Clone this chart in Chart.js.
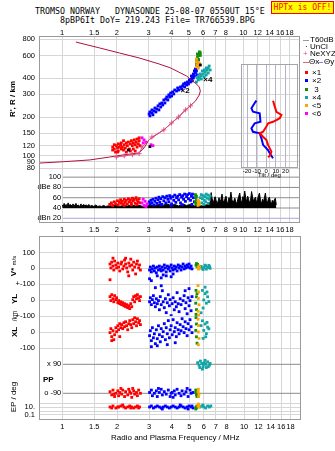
<!DOCTYPE html>
<html>
<head>
<meta charset="utf-8">
<title>Tromso Dynasonde ionogram</title>
<script src="https://cdn.jsdelivr.net/npm/chart.js@4.4.1/dist/chart.umd.min.js"></script>
<style>
  html, body { margin: 0; padding: 0; background: #fff; }
  body { position: relative; width: 335px; height: 451px; overflow: hidden;
         font-family: "Liberation Sans", Arial, sans-serif; color: #000; }
  canvas { position: absolute; }
  .txt { position: absolute; white-space: pre; font-size: 8px; line-height: 9px; }
  .mono { font-family: "DejaVu Sans Mono", monospace; font-size: 8.3px; }
  .vt { position: absolute; white-space: nowrap; transform: translate(-50%, -50%) rotate(-90deg);
        font-size: 8px; font-weight: bold; line-height: 9px; }
  .sq { position: absolute; width: 3px; height: 3px; }
  .ln { position: absolute; height: 1px; }
  #hptx { position: absolute; left: 271px; top: 1px; width: 61px; height: 11px; background: #ff0;
          border: 1px solid #f00; color: #f00; font: 8px "DejaVu Sans Mono", monospace;
          line-height: 11px; text-align: center; }
</style>
</head>
<body>
<div class="txt mono" style="left:35px;top:7px">TROMSO NORWAY   DYNASONDE 25-08-07 0550UT 15°E</div>
<div class="txt mono" style="left:60px;top:16px">8pBP6It DoY= 219.243 File= TR766539.BPG</div>
<div id="hptx">HPTx is OFF!</div>

<canvas id="ionogram" width="304" height="212" style="left:0;top:23px"></canvas>
<canvas id="tilt" width="70" height="123" style="left:236px;top:60px"></canvas>
<canvas id="polar" width="304" height="200" style="left:0;top:232px"></canvas>

<!-- legend -->
<div class="ln" style="left:303px;top:40px;width:6px;background:#999"></div>
<div class="txt" style="left:310px;top:35px">T60dB</div>
<div class="txt" style="left:305px;top:42px">·</div>
<div class="txt" style="left:310px;top:42px">UnCl</div>
<div class="txt" style="left:303px;top:49px;color:#e0508a">+</div>
<div class="txt" style="left:310px;top:49px">NeXYZ</div>
<div class="ln" style="left:303px;top:62px;width:6px;background:#e06080"></div>
<div class="txt" style="left:309px;top:57px">Θx</div>
<div class="ln" style="left:318px;top:62px;width:5px;background:#8080e0"></div>
<div class="txt" style="left:324px;top:57px">Θy</div>
<div class="sq" style="left:305px;top:71px;background:#f00"></div>
<div class="txt" style="left:312px;top:68px">×1</div>
<div class="sq" style="left:305px;top:79px;background:#00f"></div>
<div class="txt" style="left:312px;top:76px">×2</div>
<div class="sq" style="left:305px;top:88px;background:#0f8f0f"></div>
<div class="txt" style="left:312px;top:85px"> 3</div>
<div class="sq" style="left:305px;top:96px;background:#12a5a5"></div>
<div class="txt" style="left:312px;top:93px">×4</div>
<div class="sq" style="left:305px;top:104px;background:#ffa500"></div>
<div class="txt" style="left:312px;top:101px">&lt;5</div>
<div class="sq" style="left:305px;top:112px;background:#f0f"></div>
<div class="txt" style="left:312px;top:109px">&lt;6</div>

<!-- axis titles -->
<div class="vt" style="left:12px;top:99px">R', R / km</div>
<div class="vt" style="left:14px;top:266px">V* <span style="font-size:6px;font-weight:normal">m/s</span></div>
<div class="vt" style="left:14px;top:299px">YL</div>
<div class="vt" style="left:14px;top:316px;font-size:6.5px;font-weight:normal">/km</div>
<div class="vt" style="left:14px;top:332px">XL</div>
<div class="txt" style="left:43px;top:375px;font-weight:bold">PP</div>
<div class="vt" style="left:13px;top:397px;font-weight:normal">EP / deg</div>
<div class="txt" style="left:111px;top:433px">Radio and Plasma Frequency / MHz</div>

<script>
// ---- axes ----
const freqMin = 0.754;
const freqMax = 20.3;
const freqTicks = [1, 1.5, 2, 3, 4, 5, 6, 7, 8, 10, 12, 14, 16, 18];
const freqTicksMid = [1, 1.5, 2, 3, 4, 5, 6, 7, 8, 9, 10, 12, 14, 16, 18];
const heightTicks = [80, 90, 100, 120, 150, 200, 300, 400, 600, 800];
const dbeLevels = [100, 80, 60, 40];
const dbeLevelText = ['100', 'dBe 80', '60', '40'];
const dbnLevel = 20;
const ppLevels = [90, -90];
const ppLevelText = ['x 90', 'o -90'];
const tiltTicks = [-20, -10, 0, 10, 20];

// ---- virtual height R' (MHz, km) ----
const o1Height = [[1.90,117],[1.90,111],[1.94,122],[1.94,113],[1.97,107],[1.99,120],[2.02,115],[2.04,124],
  [2.04,109],[2.07,117],[2.10,122],[2.12,113],[2.12,126],[2.15,117],[2.18,131],[2.18,111],[2.20,122],
  [2.23,115],[2.26,126],[2.26,107],[2.29,120],[2.32,128],[2.35,113],[2.38,124],[2.41,131],[2.44,120],
  [2.47,126],[2.47,113],[2.50,133],[2.53,122],[2.56,128],[2.59,135],[2.59,117],[2.63,124],[2.66,131],
  [2.66,138],[2.69,120],[2.53,109],[2.38,109],[2.02,107]];
const x2Height = [[3.02,211],[3.05,204],[3.05,219],[3.13,215],[3.13,227],[3.17,208],[3.21,223],[3.25,235],
  [3.29,219],[3.33,231],[3.38,244],[3.42,227],[3.46,253],[3.50,239],[3.55,257],[3.59,248],[3.64,271],
  [3.69,257],[3.73,276],[3.78,286],[3.83,271],[3.88,297],[3.92,286],[3.97,307],[4.02,291],[4.07,313],
  [4.13,302],[4.18,324],[4.28,318],[4.34,336],[4.39,324],[4.50,342],[4.56,330],[4.62,348],[4.68,361],
  [4.74,342],[4.79,367],[4.86,354],[4.92,374],[4.98,361],[5.04,388],[5.11,374],[5.17,394],[5.17,416],
  [5.24,381],[5.30,431],[5.30,402],[5.37,455],[5.37,416],[5.44,471],[5.44,439],[5.51,497],[5.51,455],
  [5.57,525],[5.57,480],[5.65,553],[5.57,424],[5.24,409]];
const g3Height = [[5.51,525],[5.51,553],[5.58,584],[5.58,616],[5.65,600],[5.72,616],[5.72,640],[5.79,630],
  [5.65,560],[5.79,600]];
const c4Height = [[5.51,374],[5.65,388],[5.72,402],[5.86,416],[6.01,431],[6.16,447],[6.32,463],[6.40,480],
  [6.48,497],[5.94,455],[6.09,463],[6.24,480],[5.79,431],[5.65,416],[6.09,409],[5.86,394],[6.40,439],
  [6.56,463],[5.57,402],[6.24,424]];
const or5Height = [[5.51,563],[5.51,534],[5.58,506],[5.58,534],[5.65,480],[5.65,506],[5.72,520],[5.51,490]];
const m6Height = [[2.76,138],[2.83,133],[2.90,128],[2.80,126],[3.09,122],[3.17,120]];
const unclMarks = [[2.32,111],[3.05,118],[5.79,506]];
const modeTags = [[4.50,321,'×2'],[6.01,388,'×4']];

// real height profile and NeXYZ points
const profile = [[0.754,88],[1.0,90],[1.42,93],[1.83,98],[2.20,102],[2.66,105.5],[2.83,115],[3.01,133],
  [3.29,145],[3.64,159],[4.02,180],[4.39,200],[4.73,223],[5.10,244],[5.44,266],[5.71,296],[5.79,318],
  [5.71,342],[5.44,367],[5.17,387],[4.86,416],[4.39,447],[3.97,480],[3.42,516],[2.66,574],[2.07,627],
  [1.61,686],[1.19,762]];
const neXYZ = [[1.99,98],[2.20,100],[2.44,102],[2.66,104],[2.76,117],[3.13,140],[3.64,159],[4.02,180],
  [4.39,200],[4.79,227],[5.11,244]];

// ---- echo amplitude (dBe) ----
const noiseAmp = [[1.000,46],[1.013,43],[1.025,49],[1.038,44],[1.051,47],[1.065,43],[1.078,50],[1.092,45],
  [1.105,47],[1.133,44],[1.148,48],[1.162,43],[1.191,49],[1.206,44],[1.222,46],[1.253,43],[1.269,48],
  [1.285,44],[1.318,47],[1.334,43],[1.351,46],[1.386,44],[1.404,47],[1.420,43],[1.457,45],[1.494,43],
  [1.532,46],[1.571,43],[1.610,44],[1.651,43],[1.693,45],[1.736,43],[1.780,44],[1.873,44],[1.969,45],
  [2.070,43],[2.176,45],[2.288,44],[2.406,46],[2.530,44],[2.660,45],[2.797,43],[2.941,44],[3.092,46],
  [3.251,44],[3.418,47],[3.594,45],[3.779,48],[3.974,45],[4.178,47],[4.393,44],[4.619,48],[4.856,45],
  [5.106,47],[5.369,44],[5.645,45],[5.935,44],[6.241,46],[6.399,48],[6.562,52],[6.645,70],[6.729,58],
  [6.814,49],[6.900,56],[6.987,62],[7.075,55],[7.164,48],[7.255,53],[7.347,60],[7.439,51],[7.533,57],
  [7.628,67],[7.725,54],[7.822,49],[7.921,58],[8.021,63],[8.122,52],[8.224,48],[8.328,60],[8.433,56],
  [8.540,71],[8.648,57],[8.757,50],[8.867,54],[8.979,59],[9.092,52],[9.207,48],[9.323,57],[9.441,63],
  [9.559,69],[9.680,55],[9.802,50],[9.926,62],[10.05,58],[10.18,73],[10.31,60],[10.44,52],[10.57,63],
  [10.70,57],[10.84,49],[10.97,55],[11.11,72],[11.25,61],[11.39,53],[11.53,58],[11.68,61],[11.83,50],
  [11.98,56],[12.13,64],[12.28,69],[12.44,55],[12.60,48],[12.76,57],[12.92,52],[13.08,60],[13.24,69],
  [13.41,54],[13.58,49],[13.75,58],[13.93,61],[14.10,53],[14.28,47],[14.46,55],[14.64,50],[14.83,56],
  [15.02,59],[15.21,46]];
const o1Amp = [[1.83,47],[1.87,50],[1.90,45],[1.94,52],[1.97,48],[2.02,54],[2.04,46],[2.07,51],[2.10,56],
  [2.12,49],[2.15,53],[2.18,47],[2.20,57],[2.23,51],[2.26,55],[2.29,48],[2.32,58],[2.35,52],[2.38,56],
  [2.41,50],[2.44,59],[2.47,54],[2.50,57],[2.53,49],[2.56,60],[2.59,55],[2.63,52],[2.66,58],[2.69,50],
  [2.20,45],[2.41,46],[2.59,47]];
const x2Amp = [[3.02,52],[3.05,48],[3.09,55],[3.13,50],[3.17,57],[3.21,46],[3.25,53],[3.29,59],[3.33,49],
  [3.38,56],[3.42,61],[3.46,51],[3.50,58],[3.55,47],[3.59,62],[3.64,54],[3.69,60],[3.73,50],[3.78,63],
  [3.83,57],[3.88,52],[3.92,64],[3.97,59],[4.02,48],[4.07,62],[4.13,55],[4.18,65],[4.24,51],[4.28,60],
  [4.34,63],[4.39,56],[4.45,66],[4.50,50],[4.56,61],[4.62,64],[4.68,57],[4.74,67],[4.79,53],[4.86,62],
  [4.92,66],[4.98,58],[5.04,68],[5.11,55],[5.17,63],[5.24,67],[5.30,60],[5.37,52],[3.50,46],[4.00,45],
  [4.60,46],[5.20,47]];
const g3Amp = [[5.44,66],[5.47,60],[5.51,55],[5.44,52],[5.51,63],[5.47,48]];
const c4Amp = [[5.79,60],[5.86,66],[5.94,58],[6.01,64],[6.09,55],[6.16,62],[6.24,67],[6.32,59],[6.40,65],
  [6.48,57],[6.56,63],[5.90,50],[6.20,52],[6.40,49],[6.05,47]];
const or5Amp = [[5.62,55],[5.65,50],[5.72,47],[5.68,53],[5.62,45]];
const m6Amp = [[2.76,50],[2.80,57],[2.83,45],[2.87,53],[2.90,43],[2.94,48]];

// ---- tilt profile (deg, km) ----
const thetaX = [[7.1,268],[8.9,241],[10.6,220],[15.8,208],[14.1,196],[7.1,184],[1.9,179],[0.2,169],
  [-3.3,154],[-6.8,150],[-3.3,141],[0.2,133],[1.9,122],[5.4,108],[3.6,100],[1.9,97.7]];
const thetaY = [[-10.2,268],[-12.0,257],[-15.4,234],[-13.8,220],[-6.8,214],[-6.0,184],[-12.0,179],
  [-15.4,164],[-13.8,154],[-6.8,150],[-5.0,137],[-3.3,122],[1.9,111],[3.6,105],[7.1,96]];

// ---- velocity V* (m/s) ----
const o1Vel = [[1.83,27],[1.85,2],[1.87,39],[1.90,14],[1.92,-11],[1.94,46],[1.97,21],[1.99,2],[2.02,33],
  [2.04,8],[2.07,-17],[2.10,27],[2.12,39],[2.15,-4],[2.18,14],[2.20,52],[2.23,27],[2.26,2],[2.29,-23],
  [2.32,33],[2.35,14],[2.38,58],[2.41,21],[2.44,-11],[2.47,39],[2.50,8],[2.53,-36],[2.56,27],[2.59,46],
  [2.63,2],[2.66,21],[2.69,-11],[1.83,-73],[1.90,64],[2.32,-48],[2.23,64]];
const x2Vel = [[3.02,-11],[3.05,8],[3.09,-23],[3.13,-4],[3.17,14],[3.21,-17],[3.25,2],[3.29,-29],[3.33,8],
  [3.38,-11],[3.42,14],[3.46,-4],[3.50,-17],[3.55,8],[3.59,-11],[3.64,21],[3.69,2],[3.73,-23],[3.78,14],
  [3.83,-4],[3.88,8],[3.92,-17],[3.97,21],[4.02,2],[4.07,-11],[4.13,14],[4.18,-4],[4.24,8],[4.28,-17],
  [4.34,21],[4.39,2],[4.45,14],[4.50,-11],[4.56,8],[4.62,27],[4.68,-4],[4.74,14],[4.79,2],[4.86,21],
  [4.92,8],[4.98,27],[5.04,2],[5.11,14],[5.17,-4],[3.02,-67],[3.09,-79],[3.50,-61],[3.73,-48],[3.97,-54],
  [4.07,-36],[3.59,-42],[3.33,-48]];
const g3Vel = [[5.44,20],[5.47,30],[5.51,10],[5.55,25]];
const or5Vel = [[5.58,5],[5.62,-5],[5.65,15],[5.60,0],[5.68,8]];
const c4Vel = [[5.72,10],[5.86,0],[6.00,5],[6.15,15],[6.30,5],[6.45,10],[5.95,-8],[6.20,-5],[6.50,0],
  [5.80,12],[6.09,20],[6.40,18]];

// ---- echo location YL, XL (km) ----
const o1YL = [[1.83,21],[1.85,-4],[1.87,33],[1.90,8],[1.92,-11],[1.94,27],[1.97,2],[1.99,14],[2.02,-17],
  [2.04,-4],[2.07,-23],[2.10,-11],[2.12,-29],[2.15,-17],[2.18,-36],[2.20,-23],[2.23,-42],[2.26,-29],
  [2.29,-48],[2.32,-36],[2.35,-54],[2.38,-23],[2.41,-42],[2.44,2],[2.47,21],[2.50,-11],[2.53,27],[2.56,8],
  [2.59,33],[2.63,14],[2.66,-4],[2.69,21]];
const x2YL = [[3.02,-11],[3.05,14],[3.09,-29],[3.13,2],[3.17,27],[3.21,-17],[3.25,-42],[3.29,8],[3.33,-23],
  [3.38,-4],[3.42,-61],[3.46,21],[3.50,-29],[3.55,58],[3.59,-11],[3.64,-48],[3.69,8],[3.73,-79],[3.78,-17],
  [3.83,33],[3.88,-36],[3.92,2],[3.97,-98],[4.02,-23],[4.07,14],[4.13,-61],[4.18,-11],[4.24,-42],[4.28,46],
  [4.34,-23],[4.39,-73],[4.45,8],[4.50,-29],[4.62,-4],[4.68,27],[4.74,-54],[4.79,-17],[4.86,-86],[4.92,14],
  [4.98,-36],[5.04,-4],[5.11,-67],[5.17,21],[3.25,77],[3.50,89],[4.74,58],[4.98,71]];
const g3YL = [[5.44,60],[5.47,20],[5.42,-20],[5.47,-60],[5.44,-90],[5.51,40]];
const or5YL = [[5.58,90],[5.62,50],[5.60,10],[5.65,-30],[5.58,-70],[5.62,-95]];
const c4YL = [[5.90,60],[6.10,40],[6.30,20],[6.00,0],[6.20,-20],[5.95,-50],[6.40,-10],[6.10,80],[5.80,-80],
  [6.25,50]];
const o1XL = [[1.83,-4],[1.85,21],[1.87,-29],[1.90,8],[1.92,-48],[1.94,-17],[1.97,27],[1.99,2],[2.02,39],
  [2.04,14],[2.07,52],[2.10,27],[2.12,46],[2.15,21],[2.18,58],[2.20,33],[2.23,64],[2.26,39],[2.29,14],
  [2.32,52],[2.35,71],[2.38,46],[2.41,27],[2.44,77],[2.47,52],[2.50,89],[2.53,64],[2.56,39],[2.59,83],
  [2.63,58],[2.66,71],[2.69,46],[1.87,-54],[2.07,-29]];
const x2XL = [[3.02,-23],[3.05,8],[3.09,-54],[3.13,27],[3.17,-36],[3.21,-11],[3.25,-73],[3.29,14],[3.33,-42],
  [3.38,39],[3.42,-17],[3.46,-61],[3.50,21],[3.55,-29],[3.59,2],[3.64,52],[3.69,-48],[3.73,27],[3.78,-11],
  [3.83,71],[3.88,-36],[3.92,14],[3.97,39],[4.02,-17],[4.07,77],[4.13,2],[4.18,27],[4.24,-29],[4.28,58],
  [4.34,14],[4.39,-11],[4.45,46],[4.50,8],[4.56,83],[4.62,33],[4.68,-4],[4.74,64],[4.79,21],[4.86,-23],
  [4.92,52],[4.98,14],[5.04,77],[5.11,33],[5.17,-4],[3.09,-92],[3.33,-86],[3.78,-79],[4.18,-67]];
const g3XL = [[5.44,90],[5.47,50],[5.42,10],[5.47,-30],[5.51,-70]];
const or5XL = [[5.58,80],[5.62,40],[5.60,0],[5.65,-40],[5.60,-80]];
const c4XL = [[5.90,70],[6.10,50],[6.30,30],[6.00,10],[6.20,-10],[5.95,-40],[6.40,20],[6.15,-30],[5.80,40],
  [6.25,60]];

// ---- polarization PP and EP (deg) ----
const o1PP = [[1.83,-80],[1.87,-100],[1.90,-70],[1.94,-110],[1.97,-90],[2.02,-75],[2.04,-105],[2.07,-85],
  [2.12,-95],[2.15,-70],[2.20,-110],[2.23,-80],[2.29,-100],[2.32,-65],[2.38,-90],[2.41,-115],[2.47,-75],
  [2.50,-95],[2.56,-85],[2.59,-105],[2.63,-70],[2.69,-90],[2.10,-60],[2.44,-60],[1.92,-95],[2.35,-80]];
const x2PP = [[3.02,-85],[3.09,-70],[3.13,-105],[3.21,-90],[3.29,-75],[3.33,-110],[3.42,-85],[3.50,-65],
  [3.55,-100],[3.64,-80],[3.73,-95],[3.83,-70],[3.92,-110],[4.02,-85],[4.13,-75],[4.18,-100],[4.28,-65],
  [4.39,-90],[4.50,-105],[4.56,-75],[4.68,-95],[4.79,-80],[4.92,-110],[5.04,-70],[5.11,-90],[5.24,-85],
  [3.38,-60],[4.07,-115],[4.86,-60],[3.97,-90]];
const g3PP = [[5.44,-85],[5.47,-100],[5.42,-70],[5.51,-110]];
const or5PP = [[5.58,-80],[5.65,-95],[5.62,-110],[5.60,-65]];
const c4PP = [[5.55,100],[5.65,85],[5.75,110],[5.85,95],[5.95,75],[6.05,100],[6.15,90],[6.30,105],[6.45,85],
  [6.50,95],[5.90,60],[6.10,115],[6.20,70],[5.70,70],[6.35,75],[6.00,90]];
const o1EP = [[1.83,12],[1.90,22],[1.97,6.6],[2.04,12],[2.10,22],[2.18,12],[2.23,6.6],[2.29,12],[2.35,22],
  [2.41,12],[2.47,6.6],[2.53,12],[2.59,22],[2.66,12],[1.87,6.6],[2.15,40],[2.38,6.6],[2.63,6.6],[2.02,12]];
const x2EP = [[3.02,12],[3.09,22],[3.17,6.6],[3.25,12],[3.33,22],[3.42,12],[3.50,6.6],[3.59,12],[3.69,22],
  [3.78,12],[3.88,6.6],[3.97,12],[4.07,22],[4.18,12],[4.28,6.6],[4.39,12],[4.50,22],[4.62,12],[4.74,6.6],
  [4.86,12],[4.98,22],[5.11,12],[5.24,6.6],[3.55,3.6],[4.45,40],[4.92,3.6],[5.17,22]];
const g3EP = [[5.44,12],[5.47,6.6],[5.42,3.6],[5.51,22]];
const or5EP = [[5.58,22],[5.62,40],[5.65,12],[5.60,72]];
const c4EP = [[5.72,12],[5.86,22],[6.00,12],[6.15,6.6],[6.30,22],[6.45,12],[6.56,22],[5.94,40]];

// ---- drawing ----
const RED = '#ff0000', BLUE = '#0000ff', GREEN = '#0f8f0f', TEAL = '#12a5a5',
      ORANGE = '#ffa500', MAGENTA = '#ff00ff';
const tickFont = { family: '"Liberation Sans", Arial, sans-serif', size: 7.5 };
const gridColor = '#d6d6d6';

const xy = arr => arr.map(([x, y]) => ({ x, y }));

function dots(data, color, yAxisID, order = 5) {
  return { type: 'scatter', data: xy(data), yAxisID, order, pointStyle: 'rect', pointRadius: 2,
           pointBackgroundColor: color, pointBorderWidth: 0, borderColor: color };
}

function trace(data, color, yAxisID, extra = {}) {
  return Object.assign({ type: 'line', data: xy(data), yAxisID, borderColor: color, borderWidth: 1,
                         pointRadius: 0, tension: 0, fill: false, order: 2 }, extra);
}

// a flat reference line from 1 MHz to the right edge
function level(value, color, yAxisID) {
  return trace([[1.01, value], [freqMax, value]], color, yAxisID, { order: 8 });
}

// force axis box sizes so the panels line up
function boxSize(size, horizontal) {
  return s => {
    if (horizontal) s.height = size; else s.width = size;
    s.paddingTop = s.paddingBottom = s.paddingLeft = s.paddingRight = 0;
  };
}

function setTicks(values) {
  return s => { s.ticks = values.map(v => ({ value: v })); };
}

function freqAxis(position, ticks, height, pad, showGrid) {
  return {
    type: 'logarithmic', position, min: freqMin, max: freqMax,
    afterBuildTicks: setTicks(ticks), afterFit: boxSize(height, true),
    ticks: { callback: v => String(v), font: tickFont, color: '#000', padding: pad,
             autoSkip: false, maxRotation: 0 },
    grid: { display: showGrid, color: gridColor, drawTicks: false },
    border: { display: false }
  };
}

function sideAxis(type, weight, stackWeight, min, max, ticks, labels, showGrid = true) {
  return {
    type, position: 'left', stack: 'side', weight, stackWeight, min, max,
    afterBuildTicks: setTicks(ticks), afterFit: boxSize(40, false),
    ticks: { display: ticks.length > 0, callback: (v, i) => labels[i], font: tickFont, color: '#000',
             padding: 5, autoSkip: false },
    grid: { display: showGrid, color: gridColor, drawTicks: false },
    border: { display: false }
  };
}

const framePlugin = {
  id: 'frame',
  afterDraw(chart, args, opts) {
    const { ctx, chartArea: a } = chart;
    ctx.save();
    ctx.strokeStyle = opts.color || '#9a9a9a';
    ctx.lineWidth = 1;
    ctx.strokeRect(Math.round(a.left) - 0.5, Math.round(a.top) - 0.5,
                   Math.round(a.width) + 1, Math.round(a.height) + 1);
    ctx.restore();
  }
};

// tick texts written inside the frame, right-aligned at 1 MHz
const innerTicksPlugin = {
  id: 'innerTicks',
  afterDatasetsDraw(chart, args, opts) {
    if (!opts.axis) return;
    const { ctx } = chart;
    const x = chart.scales.x.getPixelForValue(1) - 1;
    const scale = chart.scales[opts.axis];
    ctx.save();
    ctx.font = `${tickFont.size}px ${tickFont.family}`;
    ctx.fillStyle = '#000';
    ctx.textAlign = 'right';
    ctx.textBaseline = 'middle';
    opts.values.forEach((v, i) => ctx.fillText(opts.texts[i], x, scale.getPixelForValue(v)));
    ctx.restore();
  }
};

const modeTagPlugin = {
  id: 'modeTags',
  afterDatasetsDraw(chart) {
    const { ctx, scales } = chart;
    ctx.save();
    ctx.font = `bold 8px ${tickFont.family}`;
    ctx.fillStyle = '#000';
    ctx.textBaseline = 'middle';
    modeTags.forEach(([f, h, text]) => ctx.fillText(text, scales.x.getPixelForValue(f), scales.yH.getPixelForValue(h)));
    ctx.restore();
  }
};

const common = {
  responsive: false, animation: false, events: [],
  plugins: { legend: { display: false }, tooltip: { enabled: false } }
};

// ionogram: virtual height + amplitude
new Chart(document.getElementById('ionogram'), {
  type: 'scatter',
  data: {
    datasets: [
      dots(unclMarks, '#000', 'yH', 1),
      trace(neXYZ, '#e0508a', 'yH', { pointStyle: 'cross', pointRadius: 2.5, pointBorderColor: '#e0508a',
                                      pointBorderWidth: 1, order: 2 }),
      trace(profile, '#b0103c', 'yH', { order: 3 }),
      dots(m6Height, MAGENTA, 'yH'),
      dots(g3Height, GREEN, 'yH'),
      dots(or5Height, ORANGE, 'yH', 4),
      dots(c4Height, TEAL, 'yH'),
      dots(o1Height, RED, 'yH'),
      dots(x2Height, BLUE, 'yH'),
      dots(m6Amp, MAGENTA, 'yA'),
      dots(or5Amp, ORANGE, 'yA', 4),
      dots(g3Amp, GREEN, 'yA'),
      dots(c4Amp, TEAL, 'yA'),
      dots(o1Amp, RED, 'yA'),
      dots(x2Amp, BLUE, 'yA'),
      trace(noiseAmp, '#000', 'yA', { fill: { value: 40 }, backgroundColor: '#000', order: 7 }),
      ...dbeLevels.map(v => level(v, '#8c8c8c', 'yA')),
      level(dbnLevel, '#a8a8e0', 'yA')
    ]
  },
  options: Object.assign({}, common, {
    layout: { padding: { right: 2 } },
    plugins: Object.assign({}, common.plugins, {
      innerTicks: { axis: 'yA', values: dbeLevels.concat([dbnLevel]), texts: dbeLevelText.concat(['dBn 20']) }
    }),
    scales: {
      x: freqAxis('top', freqTicks, 14, 0, true),
      x2: freqAxis('bottom', freqTicksMid, 13, 3, false),
      yH: sideAxis('logarithmic', 2, 135, 75, 834, heightTicks, heightTicks.map(String)),
      yA: sideAxis('linear', 1, 50, 12.8, 110, [], [], false)
    }
  }),
  plugins: [framePlugin, innerTicksPlugin, modeTagPlugin]
});

// tilt inset
new Chart(document.getElementById('tilt'), {
  type: 'scatter',
  data: {
    datasets: [
      { type: 'line', data: xy(thetaX), borderColor: RED, borderWidth: 2, pointRadius: 0, tension: 0 },
      { type: 'line', data: xy(thetaY), borderColor: BLUE, borderWidth: 2, pointRadius: 0, tension: 0 }
    ]
  },
  options: Object.assign({}, common, {
    layout: { padding: { left: 6, top: 5, right: 9, bottom: 0 } },
    plugins: Object.assign({}, common.plugins, { frame: { color: '#a4a4ac' } }),
    scales: {
      x: {
        type: 'linear', position: 'bottom', min: -25.2, max: 32,
        afterBuildTicks: setTicks(tiltTicks), afterFit: boxSize(16, true),
        ticks: { font: { family: tickFont.family, size: 6 }, color: '#000', padding: 1, autoSkip: false,
                 maxRotation: 0 },
        grid: { color: '#b4b4c8', drawTicks: false },
        border: { display: false },
        title: { display: true, text: 'Tilt / deg', font: { family: tickFont.family, size: 6 },
                 color: '#000', padding: { top: 0, bottom: 4 } }
      },
      y: { type: 'logarithmic', min: 82.2, max: 506, display: false }
    }
  }),
  plugins: [framePlugin]
});

// velocity, location and polarization panels
new Chart(document.getElementById('polar'), {
  type: 'scatter',
  data: {
    datasets: [
      dots(g3Vel, GREEN, 'yV', 4), dots(or5Vel, ORANGE, 'yV', 3), dots(c4Vel, TEAL, 'yV'),
      dots(o1Vel, RED, 'yV'), dots(x2Vel, BLUE, 'yV'),
      dots(g3YL, GREEN, 'yYL', 4), dots(or5YL, ORANGE, 'yYL', 3), dots(c4YL, TEAL, 'yYL'),
      dots(o1YL, RED, 'yYL'), dots(x2YL, BLUE, 'yYL'),
      dots(g3XL, GREEN, 'yXL', 4), dots(or5XL, ORANGE, 'yXL', 3), dots(c4XL, TEAL, 'yXL'),
      dots(o1XL, RED, 'yXL'), dots(x2XL, BLUE, 'yXL'),
      dots(g3PP, GREEN, 'yPP', 4), dots(or5PP, ORANGE, 'yPP', 3), dots(c4PP, TEAL, 'yPP'),
      dots(o1PP, RED, 'yPP'), dots(x2PP, BLUE, 'yPP'),
      dots(g3EP, GREEN, 'yEP', 4), dots(or5EP, ORANGE, 'yEP', 3), dots(c4EP, TEAL, 'yEP'),
      dots(o1EP, RED, 'yEP'), dots(x2EP, BLUE, 'yEP'),
      ...ppLevels.map(v => level(v, '#8a8a8a', 'yPP'))
    ]
  },
  options: Object.assign({}, common, {
    layout: { padding: { top: 5, right: 2 } },
    plugins: Object.assign({}, common.plugins, {
      innerTicks: { axis: 'yPP', values: ppLevels, texts: ppLevelText }
    }),
    scales: {
      x: freqAxis('bottom', freqTicks, 13, 3, true),
      yV: sideAxis('linear', 5, 47, -100, 199, [100, 0, -100], ['100', '0', '+-100']),
      yYL: sideAxis('linear', 4, 32, -100, 100, [0, -100], ['0', '+-100']),
      yXL: sideAxis('linear', 3, 40, -150, 100, [0, -100], ['0', '-100']),
      yPP: sideAxis('linear', 2, 44, -131.6, 141.5, [], [], false),
      yEP: sideAxis('logarithmic', 1, 19, 0.0091, 787, [100, 10, 1, 0.1], ['', '10.', '', '0.1'])
    }
  }),
  plugins: [framePlugin, innerTicksPlugin]
});
</script>
</body>
</html>
